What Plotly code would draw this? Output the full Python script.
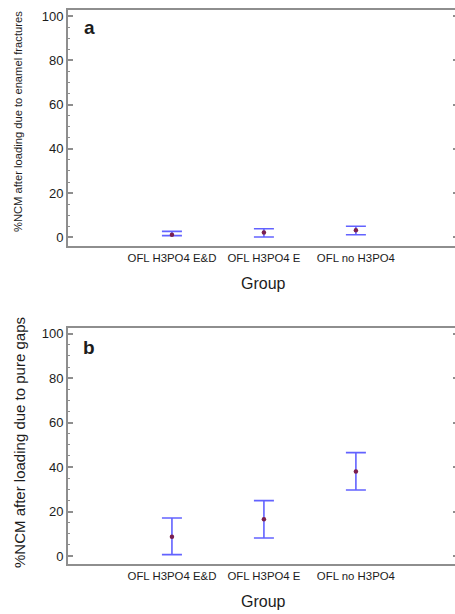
import plotly.graph_objects as go

groups = ["OFL H3PO4 E&D", "OFL H3PO4 E", "OFL no H3PO4"]

# Panel a: enamel fractures
a_mean = [1.2, 2.2, 3.2]
a_upper = [2.7, 3.9, 5.0]
a_lower = [0.8, 0.2, 1.2]

# Panel b: pure gaps
b_mean = [8.7, 16.5, 38.0]
b_upper = [17.1, 24.9, 46.5]
b_lower = [0.6, 8.1, 29.7]

y_ticks = [0, 20, 40, 60, 80, 100]
titles = ["%NCM after loading due to enamel fractures", "%NCM after loading due to pure gaps"]

ERR = "rgba(70,70,255,0.85)"
DOT = "#7a1f4f"
AX = "#8e8e8e"
TXT = "#1c1c1c"
FONT = "Liberation Sans, Arial, sans-serif"

fig = go.Figure()

def add_panel(mean, up, lo, xa, ya):
    fig.add_trace(go.Scatter(
        x=groups, y=mean, xaxis=xa, yaxis=ya, mode="markers",
        marker=dict(color=DOT, size=4.5),
        error_y=dict(type="data", symmetric=False,
                     array=[u - m for u, m in zip(up, mean)],
                     arrayminus=[m - l for m, l in zip(mean, lo)],
                     color=ERR, thickness=1.6, width=10),
        showlegend=False, hoverinfo="skip"))

add_panel(a_mean, a_upper, a_lower, "x", "y")
add_panel(b_mean, b_upper, b_lower, "x2", "y2")

xcommon = dict(type="category", categoryorder="array", categoryarray=groups,
               range=[-1.13, 3.11], showline=True, linecolor=AX, linewidth=2,
               mirror=True, ticks="", showgrid=False, zeroline=False, automargin=False,
               tickfont=dict(family=FONT, size=11.4, color=TXT))
ycommon = dict(tickmode="array", tickvals=y_ticks, showline=True, linecolor=AX,
               linewidth=2, mirror=False, ticks="inside", ticklen=5, tickwidth=1.5,
               tickcolor=AX, showgrid=False, zeroline=False, automargin=False,
               minor=dict(dtick=5, ticks="inside", ticklen=2, tickcolor=AX, tickwidth=1.2),
               tickfont=dict(family=FONT, size=13, color=TXT))
rcommon = dict(tickmode="array", tickvals=y_ticks, showline=False, side="right",
               ticks="inside", ticklen=5, tickwidth=1.5, tickcolor=AX, automargin=False,
               showticklabels=False, showgrid=False, zeroline=False,
               minor=dict(dtick=5, ticks="inside", ticklen=2, tickcolor=AX, tickwidth=1.2))

ra = [-3.9, 102.7]
rb = [-3.6, 102.6]
da = [0.574, 1.0]
db = [0.0, 0.426]

fig.update_layout(
    width=458, height=614,
    margin=dict(l=68, r=0, t=10, b=50, pad=0),
    paper_bgcolor="white", plot_bgcolor="white",
    xaxis=dict(**xcommon, anchor="y", domain=[0, 1]),
    yaxis=dict(**ycommon, anchor="x", domain=da, range=ra),
    xaxis2=dict(**xcommon, anchor="y2", domain=[0, 1]),
    yaxis2=dict(**ycommon, anchor="x2", domain=db, range=rb),
    yaxis3=dict(**rcommon, overlaying="y", anchor="x", range=ra),
    yaxis4=dict(**rcommon, overlaying="y2", anchor="x2", range=rb),
)

# invisible anchor traces so the right-side tick axes are rendered
fig.add_trace(go.Scatter(x=groups, y=a_mean, xaxis="x", yaxis="y3", mode="markers",
                         marker=dict(opacity=0), showlegend=False, hoverinfo="skip"))
fig.add_trace(go.Scatter(x=groups, y=b_mean, xaxis="x2", yaxis="y4", mode="markers",
                         marker=dict(opacity=0), showlegend=False, hoverinfo="skip"))

# y titles
fig.add_annotation(text=titles[0], xref="paper", yref="y domain", x=0, y=0.5, xshift=-50, yshift=6,
                   textangle=-90, showarrow=False, xanchor="center", yanchor="middle",
                   font=dict(family=FONT, size=11.2, color=TXT))
fig.add_annotation(text=titles[1], xref="paper", yref="y2 domain", x=0, y=0.5, xshift=-48, yshift=3,
                   textangle=-90, showarrow=False, xanchor="center", yanchor="middle",
                   font=dict(family=FONT, size=15, color=TXT))
# Group titles
for yr in ["y domain", "y2 domain"]:
    fig.add_annotation(text="Group", xref="paper", yref=yr, x=0.5, y=0, yshift=-37,
                       showarrow=False, xanchor="center", yanchor="middle",
                       font=dict(family=FONT, size=16, color=TXT))
# panel labels
fig.add_annotation(text="<b>a</b>", xref="paper", yref="y domain", x=0.054, y=0.926,
                   showarrow=False, xanchor="center", yanchor="middle",
                   font=dict(family=FONT, size=19, color=TXT))
fig.add_annotation(text="<b>b</b>", xref="paper", yref="y2 domain", x=0.054, y=0.917,
                   showarrow=False, xanchor="center", yanchor="middle",
                   font=dict(family=FONT, size=19, color=TXT))

fig.write_html("out.html", config={"displayModeBar": False},
               post_script="document.body.style.margin='0';document.body.style.overflow='hidden';"
                           "document.documentElement.style.overflow='hidden';")
